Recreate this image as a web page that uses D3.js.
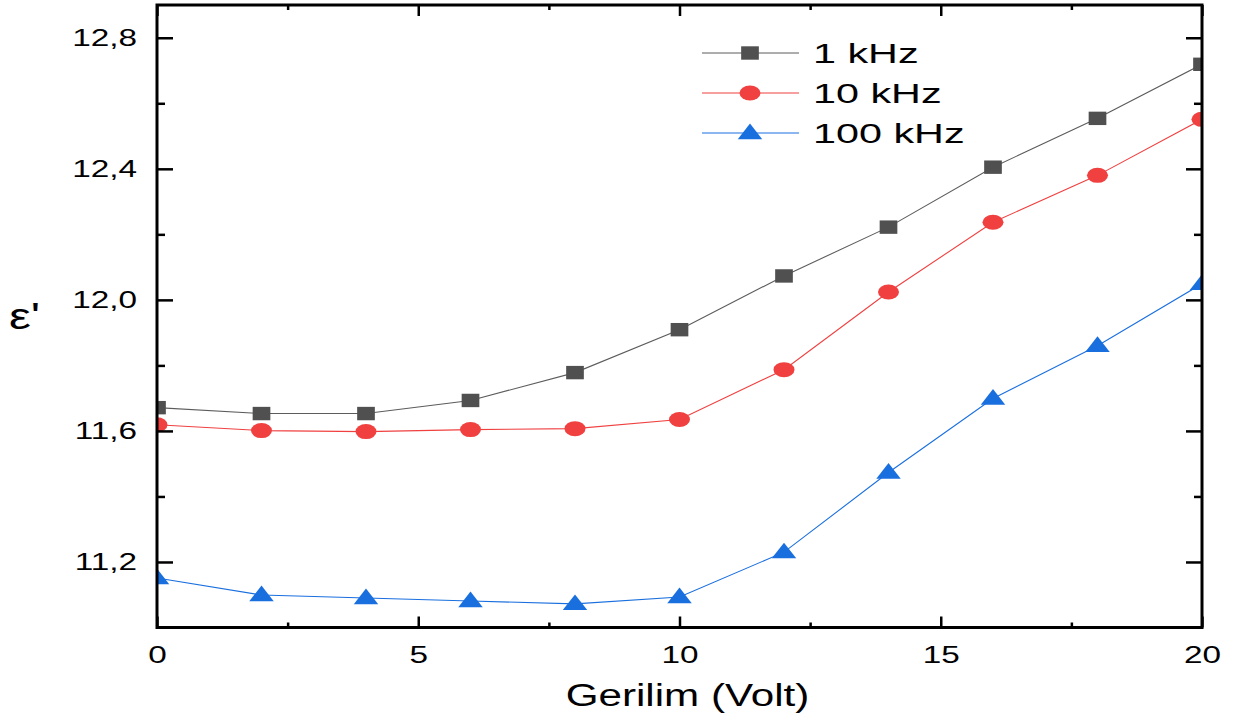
<!DOCTYPE html>
<html><head><meta charset="utf-8">
<script src="https://cdn.jsdelivr.net/npm/d3@7"></script>
<style>
html,body{margin:0;padding:0;background:#fff;}
svg{display:block;font-family:"Liberation Sans",Arial,sans-serif;}
</style></head>
<body><svg id="c" width="1236" height="726"></svg>
<script>
const voltage = [0, 2, 4, 6, 8, 10, 12, 14, 16, 18, 20];
const eps1k   = [11.671, 11.653, 11.653, 11.693, 11.778, 11.909, 12.073, 12.222, 12.405, 12.554, 12.719];
const eps10k  = [11.619, 11.601, 11.598, 11.604, 11.607, 11.635, 11.787, 12.024, 12.237, 12.380, 12.551];
const eps100k = [11.151, 11.099, 11.090, 11.081, 11.072, 11.093, 11.230, 11.473, 11.699, 11.860, 12.049];
const seriesNames = ["1 kHz", "10 kHz", "100 kHz"];
const xTicks = [0, 5, 10, 15, 20];
const yTicks = [11.2, 11.6, 12.0, 12.4, 12.8];
const xMinor = [2.5, 7.5, 12.5, 17.5];
const yMinor = [11.4, 11.8, 12.2, 12.6];
const xTitle = "Gerilim (Volt)";
const yTitle = "ε'";

const SX = 1.36; // horizontal stretch of the reference
const L = 157, R = 1202, T = 5, B = 627.5;
const svg = d3.select("#c");
const x = d3.scaleLinear().domain([0, 20]).range([L, R]);
const y = d3.scaleLinear().domain([11.0, 12.9]).range([B, T]);

const series = [
  {name: seriesNames[0], vals: eps1k,   line: "#5c5c5c", fill: "#505050", shape: "square"},
  {name: seriesNames[1], vals: eps10k,  line: "#f04040", fill: "#f04040", shape: "circle"},
  {name: seriesNames[2], vals: eps100k, line: "#1a6fdf", fill: "#1a6fdf", shape: "triangle"}
];

svg.append("clipPath").attr("id", "clip").append("rect")
  .attr("x", L).attr("y", T).attr("width", R - L).attr("height", B - T);

function marker(g, shape, fill) {
  if (shape === "square") {
    g.append("rect").attr("x", -6.5).attr("y", -6.7).attr("width", 13).attr("height", 13.4).attr("fill", fill)
      .attr("transform", `scale(${SX},1)`);
  } else if (shape === "circle") {
    g.append("ellipse").attr("rx", 10.5).attr("ry", 7.5).attr("fill", fill);
  } else {
    g.append("path").attr("d", "M0,-9.5 L9,6.2 L-9,6.2 Z").attr("fill", fill)
      .attr("transform", `scale(${SX},1)`);
  }
}

const plot = svg.append("g").attr("clip-path", "url(#clip)");
const line = d3.line().x((d, i) => x(voltage[i])).y(d => y(d));
series.forEach(s => {
  plot.append("path").attr("d", line(s.vals)).attr("fill", "none").attr("stroke", s.line).attr("stroke-width", 1.1);
  s.vals.forEach((v, i) => {
    const g = plot.append("g").attr("transform", `translate(${x(voltage[i])},${y(v)})`);
    marker(g, s.shape, s.fill);
  });
});

// axes
const fmt = d => d3.format(".1f")(d).replace(".", ",");
const axL = svg.append("g").attr("transform", `translate(${L},0)`)
  .call(d3.axisLeft(y).tickValues(yTicks).tickSize(-16).tickPadding(0).tickFormat(fmt));
axL.selectAll("text").attr("x", -20 / SX).attr("transform", `scale(${SX},1)`);
const axR = svg.append("g").attr("transform", `translate(${R},0)`)
  .call(d3.axisRight(y).tickValues(yTicks).tickSize(-16).tickFormat(""));
const axB = svg.append("g").attr("transform", `translate(0,${B})`)
  .call(d3.axisBottom(x).tickValues(xTicks).tickSize(-11).tickPadding(0).tickFormat(d3.format("d")));
axB.selectAll("text").attr("y", 18).attr("dy", "0.71em").attr("transform", `scale(${SX},1)`);
const axT = svg.append("g").attr("transform", `translate(0,${T})`)
  .call(d3.axisTop(x).tickValues(xTicks).tickSize(-11).tickFormat(""));
// minor ticks
svg.append("g").call(d3.axisLeft(y).tickValues(yMinor).tickSize(-8).tickFormat("")).attr("transform", `translate(${L},0)`);
svg.append("g").call(d3.axisRight(y).tickValues(yMinor).tickSize(-8).tickFormat("")).attr("transform", `translate(${R},0)`);
svg.append("g").call(d3.axisBottom(x).tickValues(xMinor).tickSize(-5).tickFormat("")).attr("transform", `translate(0,${B})`);
svg.append("g").call(d3.axisTop(x).tickValues(xMinor).tickSize(-5).tickFormat("")).attr("transform", `translate(0,${T})`);

svg.selectAll(".domain").remove();
svg.selectAll(".tick line").attr("stroke", "#000").attr("stroke-width", 2.5);
svg.selectAll(".tick text").attr("fill", "#000").attr("font-size", 24.5).attr("font-family", "Liberation Sans, Arial, sans-serif");

svg.append("rect").attr("x", L).attr("y", T).attr("width", R - L).attr("height", B - T)
  .attr("fill", "none").attr("stroke", "#000").attr("stroke-width", 3);

// titles
svg.append("text").attr("transform", `translate(${(L + R) / 2 + 8},706) scale(${SX},1)`)
  .attr("text-anchor", "middle").attr("font-size", 31).text(xTitle);
svg.append("text").attr("transform", `translate(9,329) scale(${SX},1)`)
  .attr("text-anchor", "start").attr("font-size", 36).text(yTitle);

// legend
const lg = svg.append("g");
series.forEach((s, i) => {
  const cy = 53 + i * 40;
  lg.append("line").attr("x1", 702).attr("x2", 799).attr("y1", cy).attr("y2", cy)
    .attr("stroke", s.line).attr("stroke-width", 1.1);
  const g = lg.append("g").attr("transform", `translate(750,${cy})`);
  marker(g, s.shape, s.fill);
  lg.append("text").attr("transform", `translate(813,${cy + 10}) scale(1.45,1)`)
    .attr("font-size", 28.5).text(s.name);
});
</script></body></html>
